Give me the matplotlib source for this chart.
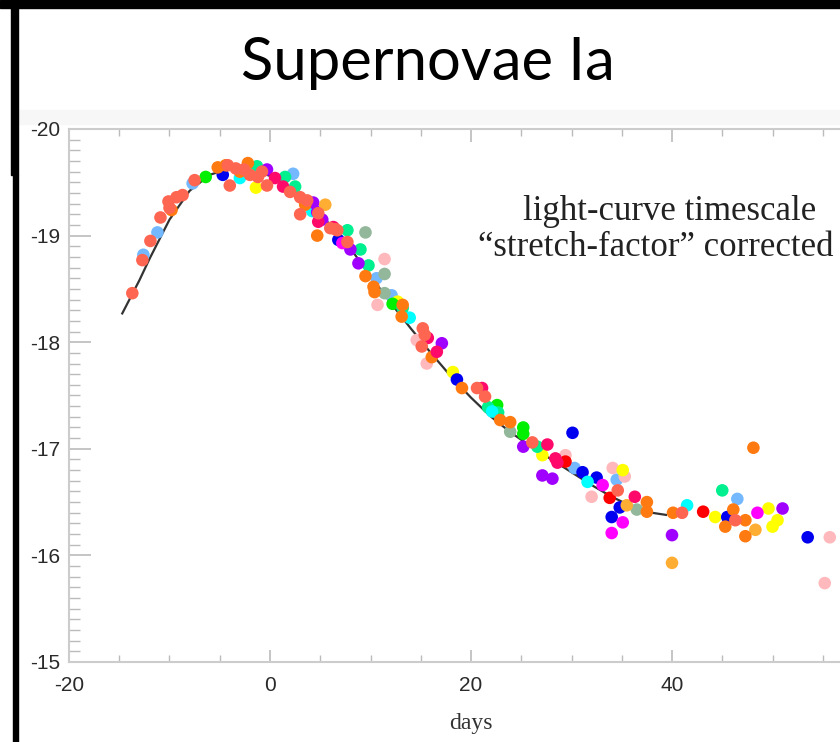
import numpy as np
import matplotlib
matplotlib.use("Agg")
import matplotlib.pyplot as plt
from matplotlib.patches import Rectangle
from matplotlib.ticker import MultipleLocator, FixedLocator

plt.rcParams['axes.unicode_minus'] = False

# template light curve (days, absolute magnitude)
tpl_day = [-14.7, -13, -12, -10, -8, -6, -4, -2, 0, 2, 4, 6, 8, 10, 12, 14, 16, 18, 20,
           22, 24, 26, 28, 30, 32, 34, 36, 38, 39.4]
tpl_mag = [-18.27, -18.58, -18.78, -19.15, -19.42, -19.57, -19.63, -19.62, -19.56, -19.45,
           -19.3, -19.1, -18.88, -18.62, -18.37, -18.13, -17.9, -17.68, -17.48,
           -17.3, -17.15, -17.02, -16.9, -16.78, -16.66, -16.55, -16.46, -16.4, -16.38]

# individual supernova points, one group per colour
tomato_day = [-13.7, -12.7, -11.9, -10.9, -10.1, -10.0, -9.3, -8.7, -7.5, -4.2, -4.0, -3.4, -2.6,
              -2.0, -1.2, -0.8, -0.3, 2.0, 3.0, 3.7, 3.0, 4.8, 6.5, 7.7, 6.0, 6.7,
              15.2, 15.4, 15.1, 20.6, 21.4, 26.1, 34.6, 41.0, 46.3]
tomato_mag = [-18.46, -18.77, -18.95, -19.17, -19.32, -19.26, -19.36, -19.38, -19.52, -19.66, -19.47, -19.63, -19.62,
              -19.57, -19.55, -19.60, -19.47, -19.41, -19.36, -19.33, -19.20, -19.21, -19.06, -18.94, -19.07, -19.05,
              -18.13, -18.07, -17.96, -17.57, -17.49, -17.06, -16.61, -16.40, -16.33]

lightblue_day = [-12.6, -11.2, -7.7, 2.3, 10.6, 12.1, 30.3, 34.5, 46.5]
lightblue_mag = [-18.82, -19.03, -19.49, -19.58, -18.60, -18.44, -16.82, -16.71, -16.53]

orange_day = [-9.8, -5.2, -4.4, -2.2, -3.0, 3.5, 4.7, 9.5, 10.3, 10.4, 13.1, 13.2, 16.1, 19.1,
              22.9, 23.9, 37.5, 37.5, 40.1, 46.1, 47.3, 45.3, 47.3, 48.1]
orange_mag = [-19.24, -19.64, -19.66, -19.68, -19.60, -19.29, -19.00, -18.62, -18.52, -18.47, -18.24, -18.35, -17.86, -17.57,
              -17.27, -17.25, -16.50, -16.41, -16.40, -16.43, -16.33, -16.27, -16.18, -17.01]

lightorange_day = [5.5, 35.5, 40.0, 48.3]
lightorange_mag = [-19.29, -16.47, -15.93, -16.24]

green_day = [-6.4, 12.2, 22.6, 25.2, 25.2]
green_mag = [-19.55, -18.36, -17.41, -17.20, -17.14]

blue_day = [-4.7, 6.8, 18.6, 30.1, 31.1, 32.5, 34.8, 34.0, 45.5, 53.5]
blue_mag = [-19.57, -18.96, -17.65, -17.15, -16.78, -16.73, -16.45, -16.36, -16.36, -16.17]

purple_day = [-0.3, 4.7, 5.2, 4.3, 8.0, 8.8, 17.1, 25.2, 27.1, 28.1, 40.0, 51.0]
purple_mag = [-19.62, -19.22, -19.15, -19.31, -18.87, -18.74, -17.99, -17.02, -16.75, -16.72, -16.19, -16.44]

magenta_day = [7.2, 33.1, 34.0, 35.1, 48.5]
magenta_mag = [-18.93, -16.66, -16.21, -16.31, -16.40]

deeppink_day = [0.5, 1.3, 4.8, 6.3, 15.7, 16.6, 21.1, 27.6, 28.4, 28.6, 36.3]
deeppink_mag = [-19.54, -19.46, -19.13, -19.08, -18.04, -17.91, -17.57, -17.04, -16.91, -16.87, -16.55]

yellow_day = [-1.4, 12.7, 18.2, 27.1, 35.1, 44.3, 49.6, 50.0, 50.5]
yellow_mag = [-19.45, -18.38, -17.72, -16.94, -16.80, -16.36, -16.44, -16.27, -16.33]

cyan_day = [-3.0, 4.2, 13.9, 22.1, 31.6, 41.5]
cyan_mag = [-19.54, -19.23, -18.23, -17.35, -16.69, -16.47]

springgreen_day = [-1.3, 1.5, 2.5, 7.7, 9.0, 9.8, 13.2, 21.7, 22.7, 26.6, 45.0]
springgreen_mag = [-19.65, -19.55, -19.46, -19.05, -18.87, -18.72, -18.32, -17.39, -17.34, -17.02, -16.61]

lightpink_day = [11.4, 10.7, 14.6, 15.6, 29.4, 32.0, 34.1, 35.3, 55.7, 55.2]
lightpink_mag = [-18.78, -18.35, -18.02, -17.80, -16.94, -16.55, -16.82, -16.74, -16.17, -15.74]

graygreen_day = [9.5, 11.4, 11.4, 23.9, 36.5]
graygreen_mag = [-19.03, -18.64, -18.46, -17.16, -16.43]

red_day = [29.4, 33.8, 43.1]
red_mag = [-16.88, -16.54, -16.41]

groups = [
    (lightblue_day, lightblue_mag, '#74b9ff'),
    (graygreen_day, graygreen_mag, '#93b79a'),
    (lightpink_day, lightpink_mag, '#ffb8bb'),
    (yellow_day, yellow_mag, '#ffff00'),
    (green_day, green_mag, '#00f000'),
    (blue_day, blue_mag, '#0000f0'),
    (springgreen_day, springgreen_mag, '#00f090'),
    (cyan_day, cyan_mag, '#00ffff'),
    (purple_day, purple_mag, '#a000ff'),
    (magenta_day, magenta_mag, '#ff00ff'),
    (red_day, red_mag, '#ff0000'),
    (lightorange_day, lightorange_mag, '#ffad33'),
    (orange_day, orange_mag, '#ff7a10'),
    (deeppink_day, deeppink_mag, '#ff0a6a'),
    (tomato_day, tomato_mag, '#ff6652'),
]

fig = plt.figure(figsize=(8.4, 7.42), dpi=100)
W, H = 840, 742

# slide frame bits
fig.add_artist(Rectangle((0, 1 - 8 / H), 1, 8 / H, transform=fig.transFigure, color='black', zorder=10))
fig.add_artist(Rectangle((18 / W, 1 - 124 / H), 1, 14 / H, transform=fig.transFigure, color='#f7f7f7', zorder=0))
fig.add_artist(Rectangle((11 / W, 1 - 175 / H), 7 / W, 167 / H, transform=fig.transFigure, color='black', zorder=10))
fig.add_artist(Rectangle((13 / W, 0), 5 / W, 1 - 175 / H, transform=fig.transFigure, color='black', zorder=10))

fig.text(428 / W, 1 - 63 / H, 'Supernovae Ia', fontsize=43, family='Lato',
         ha='center', va='center', color='black')

ax = fig.add_axes([69 / W, 80 / H, 804 / W, 533 / H])
ax.plot(tpl_day, tpl_mag, color='#333333', lw=1.6, zorder=2)
for d, m, c in groups:
    ax.scatter(d, m, s=82, color=c, edgecolors='none', zorder=3)

ax.set_xlim(-20, 60)
ax.set_ylim(-15, -20)
ax.xaxis.set_major_locator(FixedLocator([-20, 0, 20, 40]))
ax.xaxis.set_minor_locator(MultipleLocator(5))
ax.yaxis.set_major_locator(MultipleLocator(1))
ax.yaxis.set_minor_locator(MultipleLocator(0.1))
ax.tick_params(which='both', direction='in', color='#bbbbbb', top=True, right=True)
ax.tick_params(which='major', axis='y', length=16, width=1.2)
ax.tick_params(which='minor', axis='y', length=8, width=1)
ax.tick_params(which='major', axis='x', length=9, width=1.2, pad=10)
ax.tick_params(which='minor', axis='x', length=5, width=1)
ax.tick_params(labelsize=15, labelcolor='#2a2a2a')
ax.tick_params(axis='y', pad=6)
for lab in ax.get_xticklabels() + ax.get_yticklabels():
    lab.set_family('Liberation Sans')
for sp in ax.spines.values():
    sp.set_color('#cccccc')
    sp.set_linewidth(1.5)

ax.set_xlabel('days', family='Liberation Serif', fontsize=17, color='#333333', labelpad=13)

fig.text(670 / W, 1 - 212 / H, 'light-curve timescale', family='Liberation Serif',
         fontsize=25, ha='center', va='center', color='#222222')
fig.text(656 / W, 1 - 247 / H, '\u201cstretch-factor\u201d corrected', family='Liberation Serif',
         fontsize=25, ha='center', va='center', color='#222222')

fig.savefig('out.png', dpi=100)
